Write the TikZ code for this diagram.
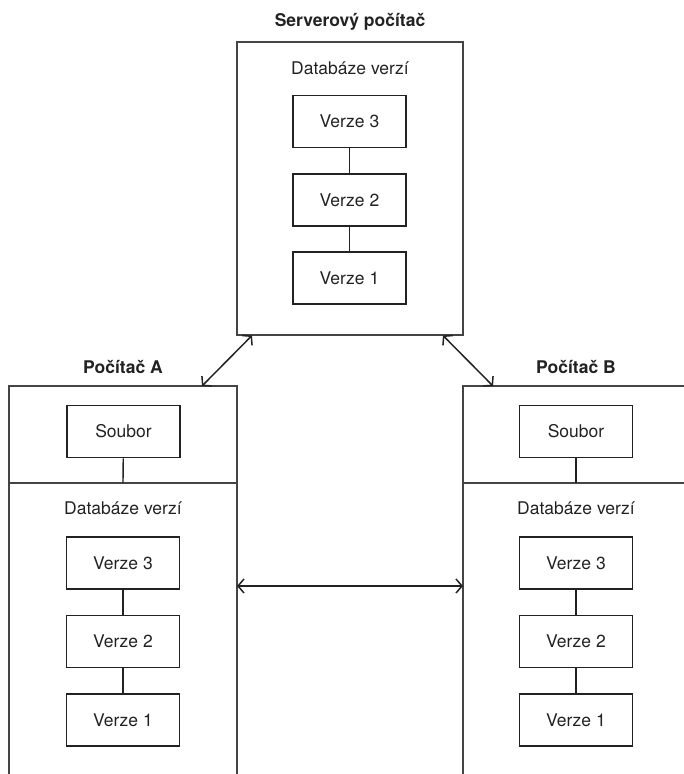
\documentclass[tikz,border=0pt]{standalone}
\usepackage{fontspec}
\setmainfont{TeX Gyre Heros}
\usetikzlibrary{arrows.meta}
\definecolor{ink}{HTML}{222222}
\definecolor{frame}{HTML}{444444}
\tikzset{
  outerbox/.style={draw=frame, line width=1.4pt, rectangle, inner sep=0pt},
  verbox/.style={draw=ink, line width=1.8pt, rectangle, minimum width=113pt, minimum height=52pt, inner sep=0pt, text=ink, font=\fontsize{17.5}{20}\selectfont},
  lbl/.style={text=ink, inner sep=0pt, font=\fontsize{17.5}{20}\selectfont},
  ttl/.style={text=ink, inner sep=0pt, font=\bfseries\fontsize{17.5}{20}\selectfont},
  link/.style={draw=ink, line width=1.4pt},
  arr/.style={draw=ink, line width=1.5pt, {Straight Barb[length=6pt,width=14pt]}-{Straight Barb[length=6pt,width=14pt]}}
}
\begin{document}
\begin{tikzpicture}[x=1pt,y=-1pt]
\useasboundingbox (0,0) rectangle (684,774);
\clip (0,0) rectangle (684,774);
% server
\node[ttl] (tS) at (350,22) {Serverový počítač};
\node[outerbox, minimum width=226pt, minimum height=293pt] (srv) at (350,188.5) {};
\node[lbl] (dS) at (350,68) {Databáze verzí};
\node[verbox] (s3) at (349.5,121.5) {Verze 3};
\node[verbox] (s2) at (349.5,200) {Verze 2};
\node[verbox] (s1) at (349.5,278) {Verze 1};
\draw[link] (s3) -- (s2);
\draw[link] (s2) -- (s1);
% computer A
\node[ttl] (tA) at (123,367) {Počítač A};
\node[outerbox, minimum width=228pt, minimum height=420pt] (pA) at (123,596) {};
\coordinate (sepAl) at (9,483);
\coordinate (sepAr) at (237,483);
\coordinate (sepA) at (123,483);
\draw[link, draw=frame] (sepAl) -- (sepAr);
\node[verbox] (fA) at (123.5,431.5) {Soubor};
\node[lbl] (dA) at (123,508) {Databáze verzí};
\node[verbox] (a3) at (123,563) {Verze 3};
\node[verbox] (a2) at (123,641.5) {Verze 2};
\node[verbox] (a1) at (123,720) {Verze 1};
\draw[link] (fA) -- (sepA);
\draw[link] (a3) -- (a2);
\draw[link] (a2) -- (a1);
% computer B
\node[ttl] (tB) at (576,367) {Počítač B};
\node[outerbox, minimum width=280pt, minimum height=420pt] (pB) at (603,596) {};
\coordinate (sepBl) at (463,483);
\coordinate (sepBr) at (743,483);
\coordinate (sepB) at (576,483);
\draw[link, draw=frame] (sepBl) -- (sepBr);
\node[verbox] (fB) at (576,431.5) {Soubor};
\node[lbl] (dB) at (576,508) {Databáze verzí};
\node[verbox] (b3) at (576,563) {Verze 3};
\node[verbox] (b2) at (576,641.5) {Verze 2};
\node[verbox] (b1) at (576,720) {Verze 1};
\draw[link] (fB) -- (sepB);
\draw[link] (b3) -- (b2);
\draw[link] (b2) -- (b1);
% arrows
\coordinate (sA) at (252,335.5);
\coordinate (aS) at (202,386);
\coordinate (sB) at (443,335.5);
\coordinate (bS) at (493,386);
\coordinate (hA) at (237,586);
\coordinate (hB) at (463,586);
\draw[arr] (sA) -- (aS);
\draw[arr] (sB) -- (bS);
\draw[arr] (hA) -- (hB);
\end{tikzpicture}
\end{document}
